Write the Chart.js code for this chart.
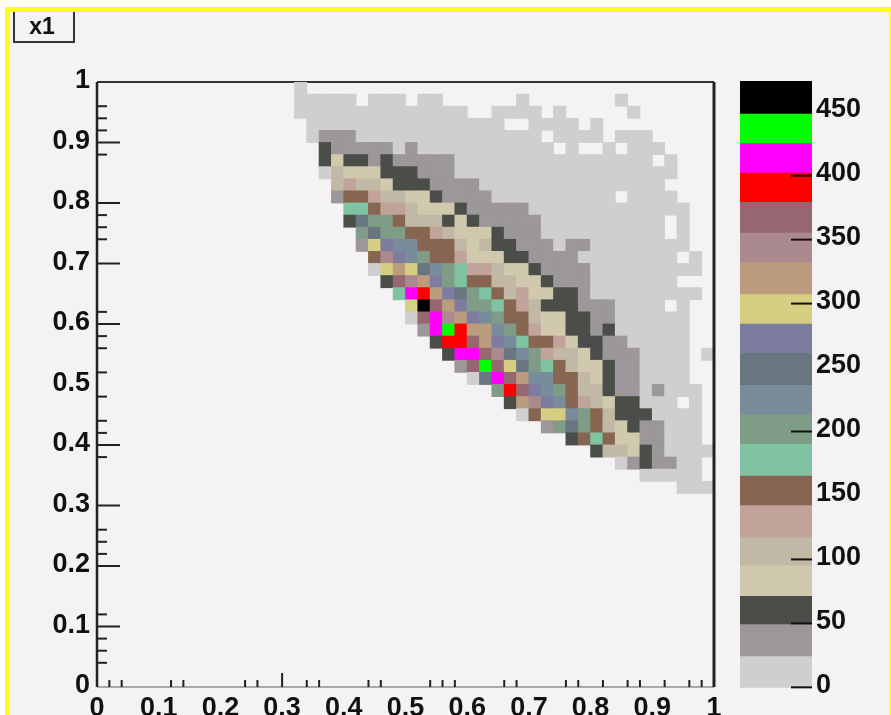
<!DOCTYPE html>
<html><head><meta charset="utf-8">
<script src="https://cdn.jsdelivr.net/npm/chart.js@4"></script>
<style>
html,body{margin:0;padding:0;background:#fff;width:891px;height:715px;overflow:hidden}
#frame{position:absolute;left:5px;top:7px;width:878.5px;height:702.5px;background:#f5f2f6;
 border-left:5.5px solid #ffff1e;border-top:5.5px solid #ffff1e;border-right:2px solid #ffff1e;}
canvas{position:absolute;filter:blur(.7px)}
#main{left:0;top:0}
#bar{left:730px;top:0}
#tag{position:absolute;left:13px;top:12px;width:54px;height:29px;padding-right:4px;border:2px solid #333;border-top:none;
 font:bold 23px "Liberation Sans",sans-serif;color:#111;text-align:center;line-height:28px;filter:blur(.7px)}
</style></head><body>
<div id="frame"></div>
<div id="tag">x1</div>
<canvas id="main" width="891" height="715"></canvas>
<canvas id="bar" width="161" height="715"></canvas>
<script>
const xTickValues=[0,0.1,0.2,0.3,0.4,0.5,0.6,0.7,0.8,0.9,1];
const yTickValues=[0,0.1,0.2,0.3,0.4,0.5,0.6,0.7,0.8,0.9,1];
const zTickValues=[0,50,100,150,200,250,300,350,400,450];
const xMajorMarks=[0.3];
const xMinorMarks=[0.02,0.04,0.12,0.14,0.24,0.26,0.34,0.36,0.44,0.46,0.54,0.56,0.58,0.66,0.68,0.76,0.78,0.82,0.86,0.88,0.92,0.96,0.98];
const yMajorMarks=[0.1,0.2,0.3,0.4,0.6,0.7,0.8,0.9];
const yMinorMarks=[0.04,0.06,0.08,0.12,0.22,0.24,0.26,0.38,0.42,0.44,0.48,0.52,0.56,0.58,0.62,0.74,0.76,0.78,0.88,0.92,0.94,0.96];
const zMarks=[0,50,100,200,300,350,400];
const levelEdges=[0,24,49,71,95,117,142,165,190,213,236,261,284,307,332,355,379,402,425,448,474];
const levelColors=['#cfcfcf','#9b979b','#4b4d49','#d0c9ae','#c1b9a5','#c1a39b','#866650','#80c3a2','#7f9c87','#788c9b',
 '#68767f','#7e7d9f','#d6ce82','#bb9c7f','#ab8a8f','#966770','#ff0000','#ff00ff','#00ff00','#000000'];
// one list per row from the top: first column, then (count, run length) pairs
const rowRuns=[
[16,12,1],
[16,12,5,0,1,12,3,0,1,12,2,0,6,12,1,0,7,12,1],
[16,12,14,0,2,12,4,0,1,12,1,0,5,12,1],
[17,12,16,0,2,12,4,0,1,12,1],
[17,12,1,36,3,12,15,0,1,12,4,0,1,12,3],
[18,59,1,36,5,12,1,36,1,12,11,0,1,12,1,0,2,12,1,0,1,12,3],
[18,59,1,83,1,59,2,36,1,59,1,36,5,12,16,0,1,12,1],
[18,12,1,107,1,83,3,59,3,36,3,12,18],
[19,107,1,130,1,107,2,83,1,59,3,36,4,12,15],
[19,36,1,154,2,130,1,107,2,83,2,59,1,36,4,12,10,0,1,12,4],
[20,178,2,154,1,130,2,107,1,83,3,59,1,36,5,12,13],
[20,59,1,249,1,201,2,154,1,107,3,59,1,83,1,59,1,36,5,12,10,0,1,12,1],
[21,201,1,249,1,201,2,154,2,130,1,107,1,83,3,59,1,36,3,12,10,0,1,12,1],
[21,36,1,296,1,273,1,225,2,154,3,107,1,83,1,107,1,59,2,36,3,12,1,36,2,12,8],
[22,154,1,344,1,273,1,225,1,201,1,154,2,130,1,83,3,59,2,36,4,12,8,0,1,12,1],
[22,12,1,296,1,320,1,296,1,249,1,225,1,201,1,178,1,130,2,107,1,83,2,59,1,36,4,12,9],
[23,59,1,367,1,344,1,320,1,273,1,201,1,178,1,154,2,107,2,83,2,59,1,36,3,12,7],
[24,178,1,415,1,391,1,320,1,273,1,249,1,201,1,178,1,154,1,107,1,130,1,83,2,59,2,36,1,12,9],
[25,296,1,462,1,367,1,320,1,273,1,201,2,178,1,154,1,130,1,107,1,59,3,36,3,12,4,0,1,12,1],
[25,12,1,367,1,415,1,344,1,320,1,273,1,225,1,201,1,154,2,107,1,83,2,59,2,36,2,12,6],
[26,36,1,415,1,438,1,391,1,320,2,225,1,201,1,154,1,130,1,83,2,59,2,36,1,59,1,12,6],
[27,59,1,391,2,367,1,320,1,273,1,225,1,178,1,154,2,130,1,83,1,59,2,36,2,12,5],
[28,59,1,415,2,367,1,344,1,249,1,225,1,201,1,130,1,107,2,83,1,59,1,36,3,12,4,0,1,12,1],
[29,36,1,367,1,438,1,367,1,296,1,249,1,201,1,178,1,154,1,107,1,83,2,59,1,36,2,12,4],
[30,12,1,249,1,415,1,367,1,320,1,225,2,154,2,107,1,83,1,59,1,36,2,12,4],
[32,201,1,391,1,367,1,273,1,225,1,201,1,154,1,107,2,59,1,36,2,12,1,36,1,12,3],
[33,59,1,320,1,344,1,273,1,225,1,154,1,130,1,107,1,83,1,59,2,12,3,0,1,12,1],
[34,12,1,154,1,296,2,225,1,201,1,154,1,107,1,59,3,12,4],
[36,36,1,201,1,249,1,201,1,154,1,107,1,83,1,59,1,36,2,12,3],
[38,59,1,154,1,178,1,154,1,83,2,36,2,12,3],
[40,59,1,107,2,83,1,59,1,36,1,12,4],
[42,12,1,36,1,59,1,36,2,12,2],
[44,12,5],
[47,12,3]
];
const BINS=50;
const cells=[];
rowRuns.forEach((run,r)=>{
  let c=run[0];
  for(let i=1;i<run.length;i+=2){
    for(let n=0;n<run[i+1];n++,c++){
      if(run[i]>0) cells.push({x:(c+0.5)/BINS,y:[(BINS-1-r)/BINS,(BINS-r)/BINS],count:run[i]});
    }
  }
});
function colorOf(v){
  for(let i=0;i<levelColors.length;i++) if(v<levelEdges[i+1]) return levelColors[i];
  return levelColors[levelColors.length-1];
}
const FONT={family:'"Liberation Sans",sans-serif',size:27,weight:'bold'};
const INK='#111';
const axisPlugin={
  id:'axisMarks',
  beforeDatasetsDraw(chart){
    const {ctx,chartArea:a}=chart;
    ctx.save();
    ctx.strokeStyle='#333';ctx.lineWidth=2;
    ctx.beginPath();ctx.moveTo(a.left,a.top);ctx.lineTo(a.right,a.top);ctx.stroke();
    ctx.strokeStyle='#aaa';
    ctx.beginPath();ctx.moveTo(a.left,a.bottom);ctx.lineTo(a.right,a.bottom);ctx.stroke();
    ctx.restore();
  },
  afterDatasetsDraw(chart){
    const {ctx,chartArea:a,scales:{x,y}}=chart;
    ctx.save();
    ctx.strokeStyle='#222';ctx.lineWidth=2;
    const hl=(list,len)=>list.forEach(v=>{const p=y.getPixelForValue(v);ctx.beginPath();ctx.moveTo(a.left,p);ctx.lineTo(a.left+len,p);ctx.stroke();});
    const vl=(list,len)=>list.forEach(v=>{const p=x.getPixelForValue(v);ctx.beginPath();ctx.moveTo(p,a.bottom);ctx.lineTo(p,a.bottom-len);ctx.stroke();});
    hl(yMajorMarks,23);hl(yMinorMarks,10);vl(xMajorMarks,14);vl(xMinorMarks,7);
    ctx.lineWidth=2.5;
    ctx.beginPath();ctx.moveTo(a.left,a.top);ctx.lineTo(a.left,a.bottom);ctx.stroke();
    ctx.lineWidth=3;
    ctx.beginPath();ctx.moveTo(a.right,a.top);ctx.lineTo(a.right,a.bottom);ctx.stroke();
    ctx.restore();
  }
};
new Chart(document.getElementById('main'),{
  type:'bar',
  data:{datasets:[{data:cells,backgroundColor:c=>colorOf(c.raw?c.raw.count:0),barPercentage:1,categoryPercentage:1,borderWidth:0,inflateAmount:0.4}]},
  options:{
    responsive:false,animation:false,events:[],
    layout:{padding:{left:0,top:82,right:177,bottom:0}},
    plugins:{legend:{display:false},tooltip:{enabled:false},title:{display:false}},
    scales:{
      x:{type:'linear',offset:false,min:0,max:1,grid:{display:false,drawTicks:false},border:{display:false},
        afterBuildTicks:s=>{s.ticks=xTickValues.map(v=>({value:v}));},
        afterFit:s=>{s.height=28;},
        ticks:{font:FONT,color:INK,padding:5,maxRotation:0,autoSkip:false,callback:v=>String(v)}},
      y:{type:'linear',min:0,max:1,grid:{display:false,drawTicks:false},border:{display:false},
        afterBuildTicks:s=>{s.ticks=yTickValues.map(v=>({value:v}));},
        afterFit:s=>{s.width=97;},
        ticks:{font:FONT,color:INK,padding:7,autoSkip:false,labelOffset:-1,callback:v=>String(v)}}
    }
  },
  plugins:[axisPlugin]
});
const barPlugin={
  id:'barMarks',
  afterDatasetsDraw(chart){
    const {ctx,chartArea:a,scales:{z}}=chart;
    ctx.save();ctx.strokeStyle='#111';ctx.lineWidth=2;
    zMarks.forEach(v=>{const p=z.getPixelForValue(v);ctx.beginPath();ctx.moveTo(a.right-21,p);ctx.lineTo(a.right,p);ctx.stroke();});
    ctx.restore();
  }
};
new Chart(document.getElementById('bar'),{
  type:'bar',
  data:{labels:['z'],datasets:levelColors.map((col,i)=>({data:[[levelEdges[i],levelEdges[i+1]]],backgroundColor:col,grouped:false,barPercentage:1,categoryPercentage:1,borderWidth:0,yAxisID:'z',inflateAmount:0.4}))},
  options:{
    responsive:false,animation:false,events:[],
    layout:{padding:{left:10,top:81,right:0,bottom:26}},
    plugins:{legend:{display:false},tooltip:{enabled:false},title:{display:false}},
    scales:{
      x:{display:false},
      z:{type:'linear',position:'right',min:-1.3,max:474,grid:{display:false,drawTicks:false},border:{display:false},
        afterBuildTicks:s=>{s.ticks=zTickValues.map(v=>({value:v}));},
        afterFit:s=>{s.width=79;},
        ticks:{font:FONT,color:INK,padding:4,autoSkip:false,labelOffset:-2,callback:v=>String(v)}}
    }
  },
  plugins:[barPlugin]
});
</script>
</body></html>
